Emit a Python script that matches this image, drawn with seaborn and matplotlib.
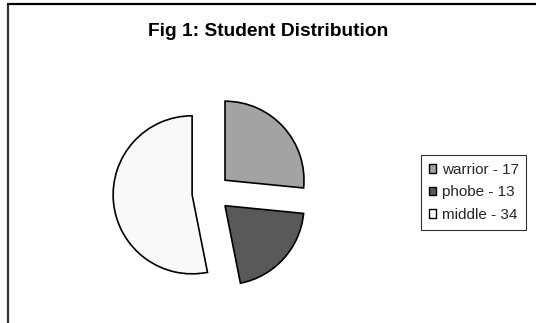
import matplotlib
matplotlib.use("Agg")
import matplotlib.pyplot as plt
import seaborn as sns
from matplotlib.lines import Line2D

categories = ["warrior", "phobe", "middle"]
counts = [17, 13, 34]
colors = ["#a3a3a3", "#595959", "#f9f9f9"]
title = "Fig 1: Student Distribution"

sns.set_theme(style="white")
plt.rcParams["font.family"] = ["Liberation Sans", "DejaVu Sans"]

fig = plt.figure(figsize=(5.36, 3.23), dpi=100)
fig.patch.set_facecolor("white")

# pie axes: 3 data units across, 1 unit = ~79 px
ax = fig.add_axes([0.1726, 0.0356, 0.442, 0.734])
wedges, _ = ax.pie(
    counts,
    colors=colors,
    startangle=90,
    counterclock=False,
    explode=[0.24] * len(counts),
    radius=1.0,
    wedgeprops=dict(edgecolor="black", linewidth=1.2),
)
ax.set_xlim(-1.5, 1.5)
ax.set_ylim(-1.5, 1.5)
ax.set_aspect("auto")
ax.axis("off")

labels = [f"{c} - {n}" for c, n in zip(categories, counts)]
leg = fig.legend(
    wedges, labels,
    loc="upper left", bbox_to_anchor=(421 / 536, 1 - 155 / 323),
    frameon=True, fancybox=False, fontsize=11,
    handlelength=0.5, handleheight=0.5, handletextpad=0.35,
    labelspacing=0.57, borderpad=0.5, borderaxespad=0.0,
)
leg.get_frame().set_edgecolor("black")
leg.get_frame().set_linewidth(0.8)
for h in leg.legend_handles:
    h.set_linewidth(1.0)

fig.text(0.5, 1 - 31 / 323, title, ha="center", va="center",
         fontsize=13.8, fontweight="bold", color="black")

# chart-area frame (left and top edges)
fig.add_artist(Line2D([7.5 / 536, 7.5 / 536], [0, 1 - 3.5 / 323],
                      color="#333333", linewidth=1.6, transform=fig.transFigure))
fig.add_artist(Line2D([7.5 / 536, 1], [1 - 3.5 / 323, 1 - 3.5 / 323],
                      color="black", linewidth=1.6, transform=fig.transFigure))

fig.savefig("out.png", dpi=100)
